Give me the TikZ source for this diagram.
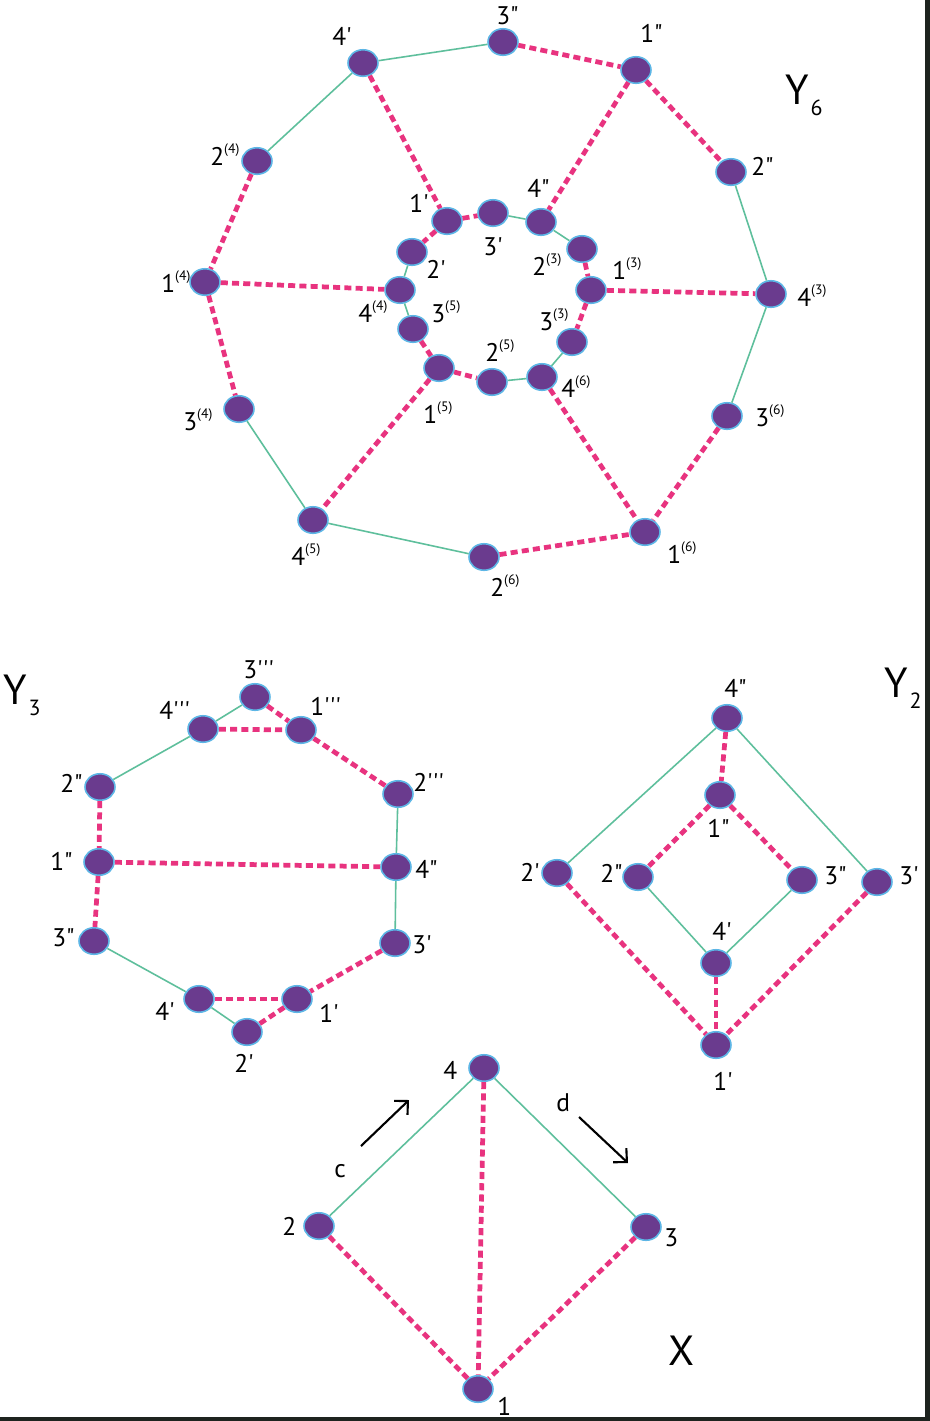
\documentclass[tikz,border=0pt]{standalone}
\usepackage{fontspec}
\setmainfont{PT Sans}[Ligatures=TeXOff]
\usepackage{tikz}
\usetikzlibrary{arrows.meta,shapes.geometric}
\definecolor{NodePurple}{HTML}{6A3B8E}
\definecolor{NodeRim}{HTML}{5DB6E6}
\definecolor{EdgeGreen}{HTML}{5EBF9C}
\definecolor{EdgePink}{HTML}{E8337F}
\definecolor{PageEdge}{HTML}{1E231F}
\newcommand{\upix}[1]{\raisebox{6.5pt}{\fontsize{7.8}{8}\selectfont(#1)}}

\begin{document}
\begin{tikzpicture}[x=0.02cm, y=-0.02cm,
      vx/.style={ellipse, draw=NodeRim, line width=0.9pt, fill=NodePurple,
                 inner sep=0pt, minimum width=0.6cm, minimum height=0.53cm},
      sol/.style={EdgeGreen, line width=0.9pt},
      dsh/.style={EdgePink, line width=2.7pt, dash pattern=on 4pt off 2.4pt},
      lb/.style={anchor=base west, inner sep=0pt, font=\fontsize{14.5}{15}\selectfont},
      ttl/.style={anchor=base west, inner sep=0pt, font=\fontsize{24}{26}\selectfont},
      ar/.style={-{Straight Barb[length=5.6pt, width=11pt, line width=1.2pt]}, line width=1.2pt},
    ]
      \useasboundingbox (0,0) rectangle (930,1421);
      \fill[white] (0,0) rectangle (930,1421);

      % Y_6
      \node[vx] (a3pp) at (503,42)  {};
      \node[vx] (a4p)  at (363,63)  {};
      \node[vx] (a1pp) at (636,70)  {};
      \node[vx] (a2s4) at (257,161) {};
      \node[vx] (a2pp) at (731,172) {};
      \node[vx] (a1p)  at (447,221) {};
      \node[vx] (a3p)  at (493,213) {};
      \node[vx] (a4pp) at (541,222) {};
      \node[vx] (a2p)  at (412,252) {};
      \node[vx] (a2s3) at (582,249) {};
      \node[vx] (a1s4) at (205,282) {};
      \node[vx] (a4s4) at (400,290) {};
      \node[vx] (a1s3) at (591,290) {};
      \node[vx] (a4s3) at (771,294) {};
      \node[vx] (a3s5) at (413,329) {};
      \node[vx] (a3s3) at (572,342) {};
      \node[vx] (a1s5) at (439,368) {};
      \node[vx] (a2s5) at (492,382) {};
      \node[vx] (a4s6) at (542,377) {};
      \node[vx] (a3s4) at (239,409) {};
      \node[vx] (a3s6) at (727,416) {};
      \node[vx] (a4s5) at (313,520) {};
      \node[vx] (a1s6) at (645,532) {};
      \node[vx] (a2s6) at (484,557) {};
      \draw[sol] (a4p)--(a3pp); \draw[sol] (a4p)--(a2s4);
      \draw[sol] (a2pp)--(a4s3); \draw[sol] (a4s3)--(a3s6);
      \draw[sol] (a3s4)--(a4s5); \draw[sol] (a4s5)--(a2s6);
      \draw[sol] (a3p)--(a4pp); \draw[sol] (a4pp)--(a2s3);
      \draw[sol] (a2p)--(a4s4); \draw[sol] (a4s4)--(a3s5);
      \draw[sol] (a2s5)--(a4s6); \draw[sol] (a4s6)--(a3s3);
      \draw[dsh] (a3pp)--(a1pp); \draw[dsh] (a1pp)--(a2pp); \draw[dsh] (a1pp)--(a4pp);
      \draw[dsh] (a4p)--(a1p); \draw[dsh] (a1p)--(a3p); \draw[dsh] (a1p)--(a2p);
      \draw[dsh] (a2s4)--(a1s4); \draw[dsh] (a1s4)--(a4s4); \draw[dsh] (a1s4)--(a3s4);
      \draw[dsh] (a2s3)--(a1s3); \draw[dsh] (a1s3)--(a4s3); \draw[dsh] (a1s3)--(a3s3);
      \draw[dsh] (a3s5)--(a1s5); \draw[dsh] (a1s5)--(a2s5); \draw[dsh] (a1s5)--(a4s5);
      \draw[dsh] (a4s6)--(a1s6); \draw[dsh] (a3s6)--(a1s6); \draw[dsh] (a2s6)--(a1s6);
      \node[lb] (t3pp) at (496,24)  {3"};
      \node[lb] (t4p)  at (332,45)  {4'};
      \node[lb] (t1pp) at (640,42)  {1"};
      \node[lb] (t2s4) at (210,165) {2\upix{4}};
      \node[lb] (t2pp) at (751,175) {2"};
      \node[lb] (t1p)  at (409,212) {1'};
      \node[lb] (t4pp) at (527,197) {4"};
      \node[lb] (t3p)  at (483,255) {3'};
      \node[lb] (t2s3) at (532,275) {2\upix{3}};
      \node[lb] (t2p)  at (426,278) {2'};
      \node[lb] (t1s3) at (612,279) {1\upix{3}};
      \node[lb] (t1s4) at (161,292) {1\upix{4}};
      \node[lb] (t4s3) at (797,306) {4\upix{3}};
      \node[lb] (t4s4) at (358,322) {4\upix{4}};
      \node[lb] (t3s5) at (431,322) {3\upix{5}};
      \node[lb] (t3s3) at (539,330) {3\upix{3}};
      \node[lb] (t2s5) at (485,361) {2\upix{5}};
      \node[lb] (t4s6) at (561,397) {4\upix{6}};
      \node[lb] (t1s5) at (423,423) {1\upix{5}};
      \node[lb] (t3s4) at (183,430) {3\upix{4}};
      \node[lb] (t3s6) at (755,426) {3\upix{6}};
      \node[lb] (t4s5) at (291,565) {4\upix{5}};
      \node[lb] (t1s6) at (667,563) {1\upix{6}};
      \node[lb] (t2s6) at (490,596) {2\upix{6}};
      \node[ttl] (ysix) at (785,104) {Y\kern1pt\raisebox{-6.8pt}{\fontsize{12.5}{13}\selectfont 6}};

      % Y_3
      \node[vx] (b3ppp) at (255,697)  {};
      \node[vx] (b4ppp) at (203,729)  {};
      \node[vx] (b1ppp) at (301,730)  {};
      \node[vx] (b2pp)  at (100,787)  {};
      \node[vx] (b2ppp) at (398,794)  {};
      \node[vx] (b1pp)  at (99,862)   {};
      \node[vx] (b4pp)  at (396,867)  {};
      \node[vx] (b3pp)  at (94,941)   {};
      \node[vx] (b3p)   at (395,943)  {};
      \node[vx] (b4p)   at (199,999)  {};
      \node[vx] (b1p)   at (297,999)  {};
      \node[vx] (b2p)   at (247,1032) {};
      \draw[sol] (b4ppp)--(b3ppp); \draw[sol] (b4ppp)--(b2pp);
      \draw[sol] (b2ppp)--(b4pp); \draw[sol] (b4pp)--(b3p);
      \draw[sol] (b3pp)--(b4p); \draw[sol] (b4p)--(b2p);
      \draw[dsh] (b3ppp)--(b1ppp); \draw[dsh] (b4ppp)--(b1ppp); \draw[dsh] (b1ppp)--(b2ppp);
      \draw[dsh] (b2pp)--(b1pp); \draw[dsh] (b1pp)--(b4pp); \draw[dsh] (b1pp)--(b3pp);
      \draw[dsh] (b3p)--(b1p); \draw[dsh] (b4p)--(b1p); \draw[dsh] (b1p)--(b2p);
      \node[lb] (u3ppp) at (243,678)  {3'''};
      \node[lb] (u4ppp) at (159,719)  {4'''};
      \node[lb] (u1ppp) at (310,715)  {1'''};
      \node[lb] (u2pp)  at (60,792)   {2"};
      \node[lb] (u2ppp) at (413,791)  {2'''};
      \node[lb] (u1pp)  at (50,870)   {1"};
      \node[lb] (u4pp)  at (415,878)  {4"};
      \node[lb] (u3pp)  at (52,946)   {3"};
      \node[lb] (u3p)   at (412,953)  {3'};
      \node[lb] (u4p)   at (155,1020) {4'};
      \node[lb] (u1p)   at (319,1022) {1'};
      \node[lb] (u2p)   at (234,1072) {2'};
      \node[ttl] (ythree) at (3,704) {Y\kern1pt\raisebox{-6.8pt}{\fontsize{12.5}{13}\selectfont 3}};

      % Y_2
      \node[vx] (c4pp) at (727,718)  {};
      \node[vx] (c1pp) at (720,795)  {};
      \node[vx] (c2p)  at (557,873)  {};
      \node[vx] (c2pp) at (638,877)  {};
      \node[vx] (c3pp) at (802,880)  {};
      \node[vx] (c3p)  at (877,882)  {};
      \node[vx] (c4p)  at (716,963)  {};
      \node[vx] (c1p)  at (716,1045) {};
      \draw[sol] (c4pp)--(c2p); \draw[sol] (c4pp)--(c3p);
      \draw[sol] (c2pp)--(c4p); \draw[sol] (c3pp)--(c4p);
      \draw[dsh] (c4pp)--(c1pp); \draw[dsh] (c1pp)--(c2pp); \draw[dsh] (c1pp)--(c3pp);
      \draw[dsh] (c2p)--(c1p); \draw[dsh] (c3p)--(c1p); \draw[dsh] (c4p)--(c1p);
      \node[lb] (v4pp) at (724,697)  {4"};
      \node[lb] (v1pp) at (707,837)  {1"};
      \node[lb] (v2p)  at (520,881)  {2'};
      \node[lb] (v2pp) at (600,882)  {2"};
      \node[lb] (v3pp) at (824,884)  {3"};
      \node[lb] (v3p)  at (899,884)  {3'};
      \node[lb] (v4p)  at (712,940)  {4'};
      \node[lb] (v1p)  at (713,1090) {1'};
      \node[ttl] (ytwo) at (884,697) {Y\kern1pt\raisebox{-6.8pt}{\fontsize{12.5}{13}\selectfont 2}};

      % X
      \node[vx] (x4) at (484,1068) {};
      \node[vx] (x2) at (319,1226) {};
      \node[vx] (x3) at (646,1227) {};
      \node[vx] (x1) at (478,1389) {};
      \draw[sol] (x4)--(x2); \draw[sol] (x4)--(x3);
      \draw[dsh] (x4)--(x1); \draw[dsh] (x2)--(x1); \draw[dsh] (x3)--(x1);
      \node[lb] (w4) at (443,1079) {4};
      \node[lb] (w2) at (282,1235) {2};
      \node[lb] (w3) at (664,1246) {3};
      \node[lb] (w1) at (497,1415) {1};
      \node[lb] (wc) at (334,1177) {c};
      \node[lb] (wd) at (556,1111) {d};
      \node[ttl] (xname) at (668,1365) {X};
      \coordinate (ca) at (361,1146); \coordinate (cb) at (409,1100);
      \coordinate (da) at (579,1117); \coordinate (db) at (628,1163);
      \draw[ar] (ca)--(cb); \draw[ar] (da)--(db);

      % page edge
      \fill[PageEdge] (925,0) rectangle (930,1421);
      \fill[PageEdge] (0,1417) rectangle (930,1421);
    \end{tikzpicture}
\end{document}
